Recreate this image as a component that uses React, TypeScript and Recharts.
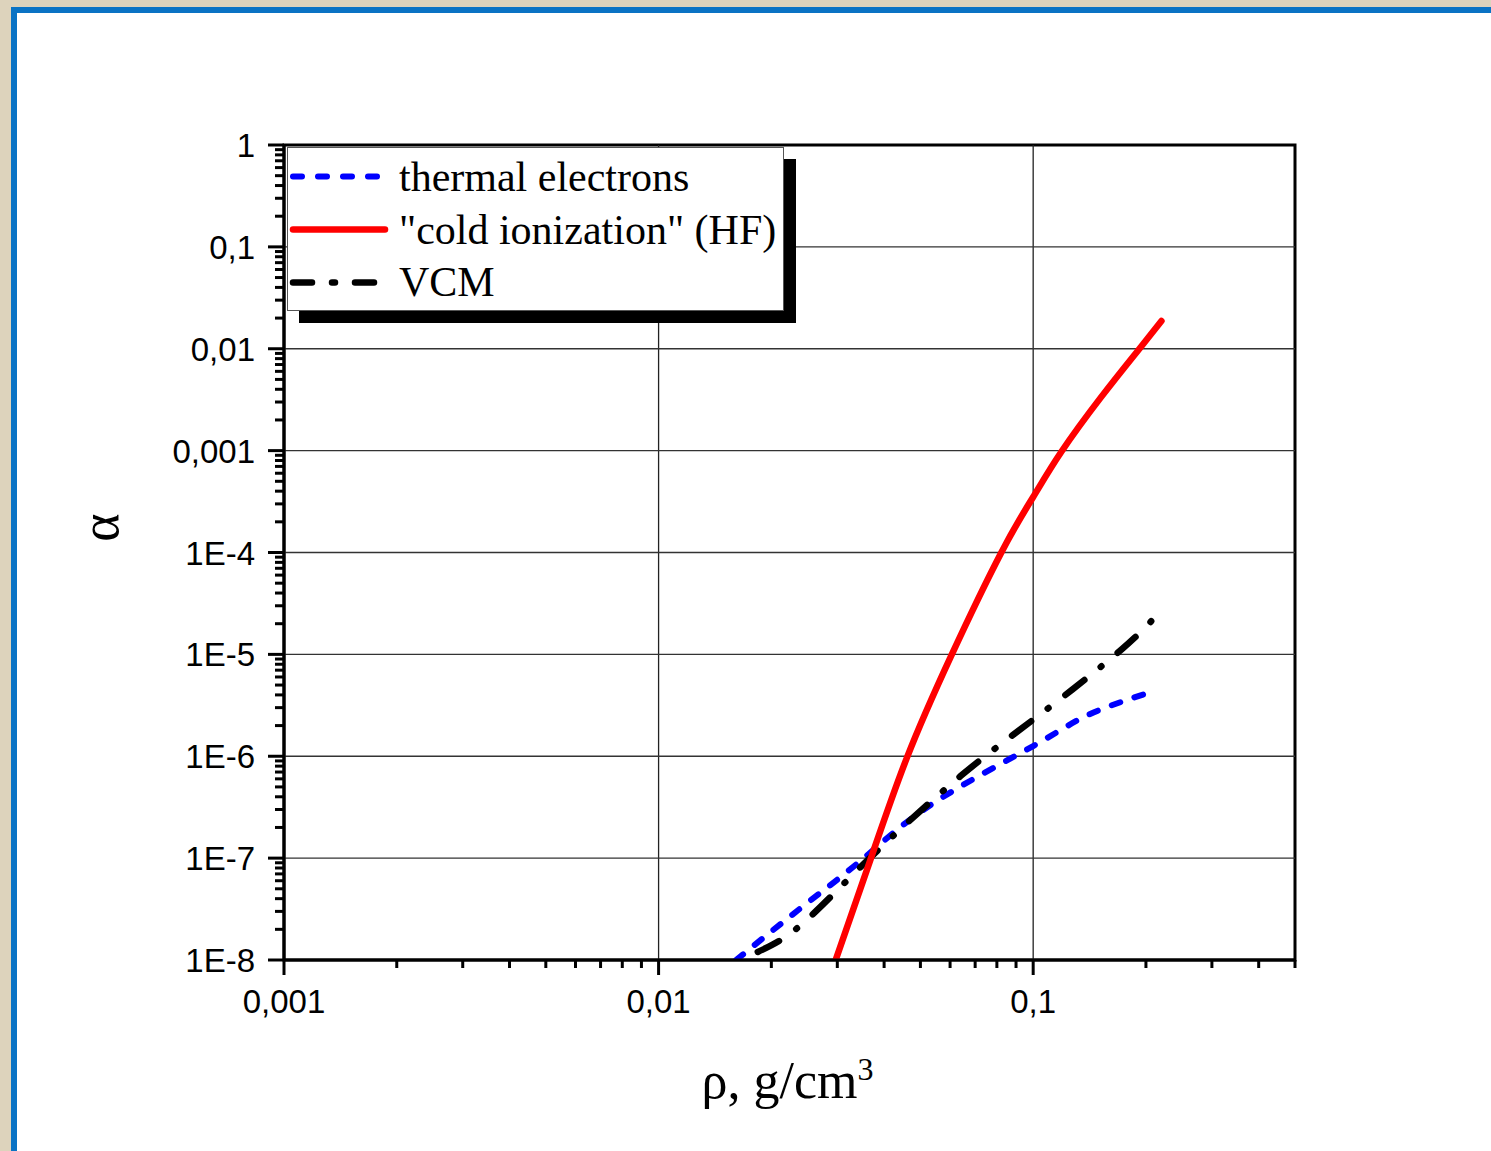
import React from 'react';
import {
  LineChart,
  Line,
  XAxis,
  YAxis,
  ReferenceLine,
  ReferenceArea,
  Legend,
} from 'recharts';

// values (rho in g/cm3, alpha dimensionless)
const thermalRho = [0.0161, 0.024, 0.0353, 0.0543, 0.1, 0.1403, 0.2028];
const thermalAlpha = [1e-8, 3.25e-8, 1e-7, 3.49e-7, 1.26e-6, 2.55e-6, 4.19e-6];

const coldRho = [0.0297, 0.0369, 0.046, 0.0604, 0.0821, 0.1, 0.1188, 0.152, 0.191, 0.22];
const coldAlpha = [1e-8, 1e-7, 9.64e-7, 9.67e-6, 9.9e-5, 3.51e-4, 9.7e-4, 3.37e-3, 9.73e-3, 1.87e-2];

const vcmRho = [0.0184, 0.024, 0.0369, 0.0641, 0.1007, 0.1718, 0.223];
const vcmAlpha = [1.2e-8, 2.21e-8, 1.03e-7, 6.42e-7, 2.33e-6, 1.11e-5, 2.92e-5];

const xMajorTicks = [0.001, 0.01, 0.1];
const xMajorLabels = ['0,001', '0,01', '0,1'];
const yMajorTicks = [1e-8, 1e-7, 1e-6, 1e-5, 1e-4, 1e-3, 1e-2, 1e-1, 1];
const yMajorLabels = ['1E-8', '1E-7', '1E-6', '1E-5', '1E-4', '0,001', '0,01', '0,1', '1'];
const minorSteps = [2, 3, 4, 5, 6, 7, 8, 9];

const X_MAX = 0.5;

const toPoints = (xs: number[], ys: number[]) => xs.map((rho, i) => ({ rho, alpha: ys[i] }));
const thermal = toPoints(thermalRho, thermalAlpha);
const cold = toPoints(coldRho, coldAlpha);
const vcm = toPoints(vcmRho, vcmAlpha);

const xTicks: number[] = [];
xMajorTicks.forEach((d) => {
  xTicks.push(d);
  minorSteps.forEach((m) => {
    const v = +(m * d).toPrecision(3);
    if (v <= X_MAX) xTicks.push(v);
  });
});
const yTicks: number[] = [];
yMajorTicks.forEach((d) => {
  yTicks.push(d);
  if (d < 1) minorSteps.forEach((m) => yTicks.push(+(m * d).toPrecision(3)));
});

const majorIndex = (majors: number[], v: number) =>
  majors.findIndex((m) => Math.abs(Math.log10(m) - Math.log10(v)) < 1e-6);

const sansFont = '"Liberation Sans", Arial, sans-serif';
const serifFont = '"Liberation Serif", "Times New Roman", serif';

const series = [
  { name: 'thermal electrons', color: '#0000ff', dash: '9 15', width: 6 },
  { name: '"cold ionization" (HF)', color: '#ff0000', dash: undefined, width: 6.5 },
  { name: 'VCM', color: '#000000', dash: '24 21 1 21', width: 6.5 },
];

const renderXTick = (props: any) => {
  const { x, y, payload } = props;
  const idx = majorIndex(xMajorTicks, payload.value);
  const major = idx >= 0;
  return (
    <g>
      <line x1={x} x2={x} y1={y} y2={y + (major ? 15 : 8)} stroke="#000" strokeWidth={3} />
      {major && (
        <text x={x} y={y + 53} textAnchor="middle" fontFamily={sansFont} fontSize={33} fill="#000">
          {xMajorLabels[idx]}
        </text>
      )}
    </g>
  );
};

const renderYTick = (props: any) => {
  const { x, y, payload } = props;
  const idx = majorIndex(yMajorTicks, payload.value);
  const major = idx >= 0;
  return (
    <g>
      <line x1={x} x2={x - (major ? 16 : 9)} y1={y} y2={y} stroke="#000" strokeWidth={3} />
      {major && (
        <text x={x - 29} y={y + 12} textAnchor="end" fontFamily={sansFont} fontSize={33} fill="#000">
          {yMajorLabels[idx]}
        </text>
      )}
    </g>
  );
};

const renderXTitle = (props: any) => {
  const vb = props.viewBox;
  return (
    <text x={vb.x + vb.width / 2 - 2} y={vb.y + 138} textAnchor="middle" fontFamily={serifFont} fontSize={52} fill="#000">
      ρ, g/cm
      <tspan fontSize={32} dy={-18}>3</tspan>
    </text>
  );
};

const renderYTitle = (props: any) => {
  const vb = props.viewBox;
  const cx = vb.x + 16;
  const cy = vb.y + vb.height / 2 - 25;
  return (
    <text
      x={cx}
      y={cy}
      textAnchor="middle"
      dominantBaseline="central"
      transform={`rotate(-90, ${cx}, ${cy})`}
      fontFamily={serifFont}
      fontSize={54}
      fill="#000"
    >
      α
    </text>
  );
};

const LegendBox = () => (
  <div style={{ position: 'relative', width: 509, height: 176 }}>
    <div style={{ position: 'absolute', left: 12, top: 12, width: 497, height: 164, background: '#000' }} />
    <svg
      width={497}
      height={164}
      style={{ position: 'absolute', left: 0, top: 0, background: '#fff', display: 'block' }}
    >
      <rect x={0.5} y={0.5} width={496} height={163} fill="#fff" stroke="#555" strokeWidth={1} />
      {series.map((s, i) => (
        <g key={s.name}>
          <line
            x1={6}
            x2={98}
            y1={29.5 + i * 53}
            y2={29.5 + i * 53}
            stroke={s.color}
            strokeWidth={s.width}
            strokeDasharray={i === 0 ? '9 16' : i === 2 ? '19 20 3 20' : undefined}
            strokeLinecap="round"
          />
          <text x={112} y={44.4 + i * 52.5} fontFamily={serifFont} fontSize={42} fill="#000">
            {s.name}
          </text>
        </g>
      ))}
    </svg>
  </div>
);

export default function App() {
  return (
    <div
      style={{
        position: 'absolute',
        left: 0,
        top: 0,
        width: 1491,
        height: 1151,
        background: '#ddd3bc',
        overflow: 'hidden',
      }}
    >
      <div
        style={{
          position: 'absolute',
          left: 11,
          top: 7,
          right: 0,
          bottom: 0,
          background: '#fff',
          borderLeft: '6px solid #0a73c4',
          borderTop: '6px solid #0a73c4',
        }}
      />
      <div style={{ position: 'absolute', left: 0, top: 0 }}>
        <LineChart width={1491} height={1151} margin={{ top: 145, right: 196, bottom: 131, left: 84 }}>
          <XAxis
            dataKey="rho"
            type="number"
            scale="log"
            domain={[0.001, X_MAX]}
            allowDataOverflow
            ticks={xTicks}
            interval={0}
            tick={renderXTick}
            tickLine={false}
            tickSize={0}
            tickMargin={0}
            height={60}
            axisLine={{ stroke: '#000', strokeWidth: 3 }}
            label={renderXTitle}
          />
          <YAxis
            type="number"
            scale="log"
            domain={[1e-8, 1]}
            allowDataOverflow
            ticks={yTicks}
            interval={0}
            tick={renderYTick}
            tickLine={false}
            tickSize={0}
            tickMargin={0}
            width={200}
            axisLine={{ stroke: '#000', strokeWidth: 3 }}
            label={renderYTitle}
          />
          {xMajorTicks.slice(1).map((v) => (
            <ReferenceLine key={'gx' + v} x={v} stroke="#222" strokeWidth={1.3} />
          ))}
          {yMajorTicks.slice(1, -1).map((v) => (
            <ReferenceLine key={'gy' + v} y={v} stroke="#333" strokeWidth={1.3} />
          ))}
          <Line
            data={thermal}
            dataKey="alpha"
            name={series[0].name}
            type="natural"
            stroke={series[0].color}
            strokeWidth={series[0].width}
            strokeDasharray={series[0].dash}
            strokeLinecap="round"
            dot={false}
            activeDot={false}
            isAnimationActive={false}
          />
          <Line
            data={vcm}
            dataKey="alpha"
            name={series[2].name}
            type="natural"
            stroke={series[2].color}
            strokeWidth={series[2].width}
            strokeDasharray={series[2].dash}
            strokeLinecap="round"
            dot={false}
            activeDot={false}
            isAnimationActive={false}
          />
          <Line
            data={cold}
            dataKey="alpha"
            name={series[1].name}
            type="natural"
            stroke={series[1].color}
            strokeWidth={series[1].width}
            strokeLinecap="round"
            dot={false}
            activeDot={false}
            isAnimationActive={false}
          />
          <ReferenceArea
            x1={0.001}
            x2={X_MAX}
            y1={1e-8}
            y2={1}
            fill="none"
            fillOpacity={0}
            stroke="#000"
            strokeWidth={3}
          />
          <Legend
            layout="vertical"
            align="center"
            verticalAlign="middle"
            content={() => <LegendBox />}
            wrapperStyle={{ position: 'absolute', left: 287, top: 147, width: 509, height: 176 }}
          />
        </LineChart>
      </div>
    </div>
  );
}
